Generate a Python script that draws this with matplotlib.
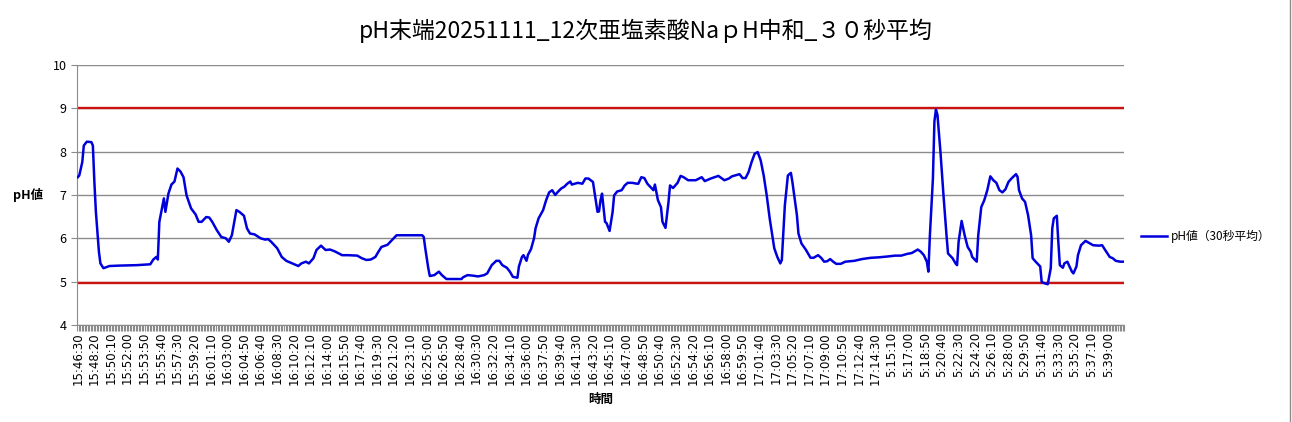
import numpy as np
import matplotlib
matplotlib.use("Agg")
import matplotlib.pyplot as plt
from matplotlib.lines import Line2D

plt.rcParams['font.family'] = ['Noto Sans CJK JP', 'DejaVu Sans']

# 30秒平均 pH値 (データ番号 = 10秒ごと, 0..692)
idx = [0, 1, 3, 4, 6, 9, 10, 11, 12, 14, 15, 17, 21, 28, 39, 48, 50, 52, 53, 54,
       57, 58, 60, 62, 64, 66, 68, 70, 72, 75, 78, 80, 82, 85, 87, 89, 92, 95, 98, 100,
       102, 104, 105, 107, 110, 112, 114, 117, 121, 124, 126, 128, 132, 135, 138, 142, 146, 148, 151, 153,
       156, 158, 161, 164, 167, 170, 175, 179, 185, 188, 191, 194, 197, 199, 201, 205, 208, 211, 214, 221,
       228, 229, 230, 232, 233, 236, 239, 241, 244, 249, 254, 255, 258, 261, 265, 269, 271, 274, 277, 279,
       281, 284, 286, 288, 291, 292, 294, 295, 297, 298, 300, 302, 303, 305, 308, 310, 312, 314, 316, 318,
       320, 322, 324, 326, 327, 329, 331, 334, 336, 338, 341, 344, 345, 346, 347, 349, 350, 352, 354, 355,
       357, 360, 362, 364, 367, 370, 371, 373, 375, 377, 380, 381, 382, 384, 386, 387, 389, 391, 392, 394,
       397, 399, 401, 404, 409, 413, 415, 419, 424, 428, 431, 433, 435, 438, 440, 442, 444, 446, 448, 450,
       452, 454, 456, 458, 461, 463, 465, 466, 468, 470, 472, 473, 476, 477, 479, 482, 485, 487, 490, 492,
       494, 496, 498, 500, 502, 505, 508, 514, 519, 525, 530, 536, 541, 545, 549, 552, 556, 558, 560, 562,
       563, 564, 566, 567, 568, 569, 571, 573, 575, 576, 579, 581, 582, 583, 585, 587, 589, 591, 592, 595,
       596, 598, 600, 602, 604, 606, 608, 610, 612, 614, 616, 618, 621, 622, 623, 625, 627, 629, 631, 632,
       634, 637, 638, 640, 642, 644, 645, 646, 648, 649, 650, 652, 653, 655, 656, 658, 659, 661, 662, 664,
       667, 669, 672, 676, 678, 680, 683, 685, 687, 690, 692]
ph = [7.41, 7.45, 7.76, 8.14, 8.23, 8.22, 8.14, 7.30, 6.61, 5.69, 5.42, 5.31, 5.36, 5.37, 5.38, 5.40, 5.51, 5.57, 5.51, 6.38,
      6.92, 6.61, 7.03, 7.24, 7.31, 7.61, 7.54, 7.41, 6.99, 6.69, 6.55, 6.38, 6.38, 6.49, 6.48, 6.38, 6.19, 6.03, 6.00, 5.92,
      6.07, 6.46, 6.65, 6.61, 6.52, 6.23, 6.11, 6.09, 6.00, 5.97, 5.98, 5.92, 5.77, 5.57, 5.48, 5.42, 5.36, 5.42, 5.46, 5.42,
      5.54, 5.73, 5.83, 5.73, 5.74, 5.70, 5.61, 5.61, 5.60, 5.54, 5.50, 5.51, 5.57, 5.69, 5.80, 5.85, 5.96, 6.07, 6.07, 6.07,
      6.07, 6.03, 5.77, 5.31, 5.13, 5.15, 5.23, 5.15, 5.06, 5.06, 5.06, 5.10, 5.15, 5.14, 5.12, 5.15, 5.19, 5.38, 5.48, 5.48,
      5.38, 5.32, 5.23, 5.11, 5.09, 5.35, 5.57, 5.61, 5.48, 5.62, 5.75, 6.00, 6.23, 6.46, 6.65, 6.88, 7.06, 7.11, 7.00, 7.08,
      7.15, 7.19, 7.26, 7.31, 7.24, 7.26, 7.28, 7.26, 7.38, 7.38, 7.30, 6.61, 6.62, 6.88, 7.03, 6.38, 6.35, 6.17, 6.61, 6.99,
      7.08, 7.11, 7.22, 7.28, 7.28, 7.26, 7.26, 7.41, 7.39, 7.26, 7.15, 7.11, 7.24, 6.88, 6.72, 6.38, 6.24, 6.84, 7.22, 7.16,
      7.28, 7.44, 7.41, 7.34, 7.34, 7.41, 7.32, 7.38, 7.44, 7.34, 7.38, 7.43, 7.45, 7.48, 7.39, 7.39, 7.53, 7.76, 7.95, 7.99,
      7.80, 7.45, 6.99, 6.45, 5.77, 5.57, 5.42, 5.50, 6.76, 7.45, 7.51, 7.30, 6.53, 6.11, 5.88, 5.73, 5.55, 5.55, 5.61, 5.55,
      5.46, 5.47, 5.52, 5.46, 5.41, 5.41, 5.46, 5.48, 5.52, 5.55, 5.56, 5.58, 5.60, 5.60, 5.64, 5.66, 5.74, 5.69, 5.61, 5.46,
      5.23, 6.07, 7.38, 8.70, 8.97, 8.85, 7.99, 6.99, 6.07, 5.65, 5.54, 5.42, 5.38, 5.92, 6.40, 6.07, 5.80, 5.69, 5.57, 5.46,
      6.07, 6.72, 6.88, 7.11, 7.43, 7.34, 7.28, 7.11, 7.06, 7.13, 7.30, 7.38, 7.48, 7.42, 7.11, 6.92, 6.84, 6.53, 6.07, 5.54,
      5.46, 5.35, 4.99, 4.96, 4.94, 5.31, 6.23, 6.46, 6.52, 5.92, 5.38, 5.32, 5.42, 5.46, 5.38, 5.23, 5.19, 5.35, 5.61, 5.84,
      5.94, 5.90, 5.84, 5.83, 5.84, 5.73, 5.57, 5.54, 5.48, 5.46, 5.46]

n_points = 693
label_step = 11
time_labels = ["15:46:30", "15:48:20", "15:50:10", "15:52:00", "15:53:50", "15:55:40", "15:57:30",
               "15:59:20", "16:01:10", "16:03:00", "16:04:50", "16:06:40", "16:08:30", "16:10:20",
               "16:12:10", "16:14:00", "16:15:50", "16:17:40", "16:19:30", "16:21:20", "16:23:10",
               "16:25:00", "16:26:50", "16:28:40", "16:30:30", "16:32:20", "16:34:10", "16:36:00",
               "16:37:50", "16:39:40", "16:41:30", "16:43:20", "16:45:10", "16:47:00", "16:48:50",
               "16:50:40", "16:52:30", "16:54:20", "16:56:10", "16:58:00", "16:59:50", "17:01:40",
               "17:03:30", "17:05:20", "17:07:10", "17:09:00", "17:10:50", "17:12:40", "17:14:30",
               "5:15:10", "5:17:00", "5:18:50", "5:20:40", "5:22:30", "5:24:20", "5:26:10",
               "5:28:00", "5:29:50", "5:31:40", "5:33:30", "5:35:20", "5:37:10", "5:39:00"]

upper_limit = 9.0
lower_limit = 4.96

fig = plt.figure(figsize=(12.92, 4.22), dpi=100)
ax = fig.add_axes([0.0596, 0.23, 0.8104, 0.616])

grid_c = '#8c8c8c'
ax.set_ylim(4, 10)
ax.set_yticks(range(4, 11))
ax.grid(axis='y', color=grid_c, linewidth=1)
ax.set_axisbelow(True)

# 上限・下限ライン
ax.axhline(upper_limit, color='#cc1111', linewidth=1.7, zorder=2)
ax.axhline(lower_limit, color='#cc1111', linewidth=1.7, zorder=2)
ax.plot(idx, ph, color='#0000dd', linewidth=1.8, zorder=3, label='pH値（30秒平均）')

ax.set_xlim(-0.5, n_points - 0.5)
ax.set_xticks(np.arange(len(time_labels)) * label_step)
ax.set_xticklabels(time_labels, rotation=90, fontsize=8.5, family=['DejaVu Sans'])
ax.set_xticks(np.arange(-0.5, n_points, 1), minor=True)
ax.tick_params(axis='x', which='major', length=0, pad=5)
ax.tick_params(axis='x', which='minor', length=4, color=grid_c, width=0.8)
ax.tick_params(axis='y', length=4, color=grid_c, labelsize=9)

for s in ['top', 'right']:
    ax.spines[s].set_visible(False)
ax.spines['left'].set_color(grid_c)
ax.spines['bottom'].set_color(grid_c)

fig.text(0.5, 0.928, 'pH末端20251111_12次亜塩素酸NaｐH中和_３０秒平均',
         fontsize=16.5, ha='center', va='center')
ax.set_ylabel('pH値', fontsize=9, fontweight='bold', rotation=0, labelpad=18, va='center')
ax.set_xlabel('時間', fontsize=9, fontweight='bold', labelpad=6)

fig.legend(loc='center left', bbox_to_anchor=(0.875, 0.44), frameon=False,
           fontsize=8.5, handlelength=2.2, handletextpad=0.3)

fig.add_artist(Line2D([0.9985, 0.9985], [0, 1], color='#8c8c8c', linewidth=1))

fig.savefig('out.png', dpi=100)
